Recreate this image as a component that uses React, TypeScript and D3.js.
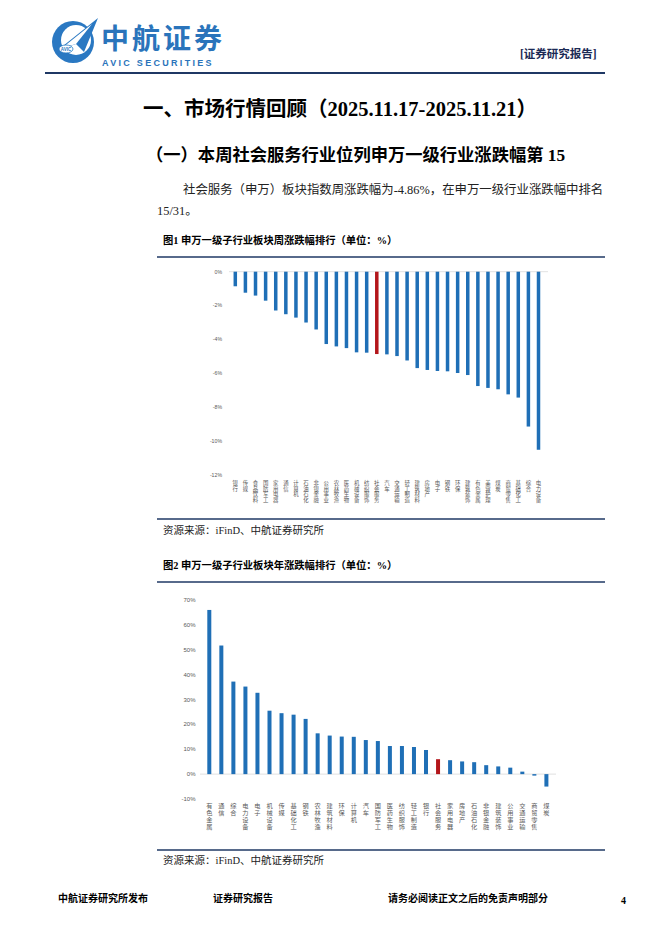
import React from "react";
import * as d3 from "d3";

const weekCategories = ["银行","传媒","食品饮料","国防军工","家用电器","通信","计算机","石油石化","非银金融","公用事业","农林牧渔","医药生物","机械设备","纺织服饰","社会服务","汽车","交通运输","轻工制造","建筑材料","房地产","电子","钢铁","环保","建筑装饰","有色金属","美容护理","煤炭","商贸零售","基础化工","综合","电力设备"];
const weekValues = [-0.86,-1.24,-1.41,-1.71,-2.29,-2.51,-2.71,-3.0,-3.41,-4.27,-4.41,-4.51,-4.76,-4.78,-4.86,-4.88,-4.98,-5.24,-5.69,-5.8,-5.86,-5.88,-5.98,-6.1,-6.75,-6.86,-6.94,-7.24,-7.43,-9.14,-10.51];
const weekTicks = [0,-2,-4,-6,-8,-10,-12];

const yearCategories = ["有色金属","通信","综合","电力设备","电子","机械设备","传媒","基础化工","钢铁","农林牧渔","建筑材料","环保","计算机","汽车","国防军工","医药生物","纺织服饰","轻工制造","银行","社会服务","家用电器","房地产","石油石化","非银金融","建筑装饰","公用事业","交通运输","商贸零售","煤炭"];
const yearValues = [66.0,51.7,37.2,35.2,32.7,25.5,24.5,23.9,22.2,16.4,15.5,15.1,15.0,13.7,13.3,11.3,11.3,10.9,9.7,6.0,5.6,5.1,4.8,3.6,3.1,2.6,1.0,-0.6,-5.0];
const yearTicks = [70,60,50,40,30,20,10,0,-10];

const HIGHLIGHT = "社会服务";
const BLUE = "#1f6fb6";
const RED = "#b3161b";
const NAVY = "#1f3864";
const SERIF = "'Liberation Serif','Noto Sans CJK SC',serif";
const CJK = "'Noto Sans CJK SC','Liberation Serif',sans-serif";

type BarProps = {
  cats: string[]; vals: number[]; ticks: number[];
  x0: number; x1: number; yTop: number; yBot: number; dom: [number, number];
  barW: number; tickX: number; tickFs: number; labelTop: number; labelFs: number; labelLs: number; gridX0: number; gridX1: number;
};

function BarChart(p: BarProps) {
  const x = d3.scalePoint<string>().domain(p.cats).range([p.x0, p.x1]);
  const y = d3.scaleLinear().domain(p.dom).range([p.yBot, p.yTop]);
  return (
    <g>
      <line x1={p.gridX0} x2={p.gridX1} y1={y(0)} y2={y(0)} stroke="#d9d9d9" strokeWidth={0.8} />
      {p.ticks.map((t) => (
        <text key={t} x={p.tickX} y={y(t)} dy="0.35em" textAnchor="end" fontSize={p.tickFs} fill="#595959" fontFamily="'Liberation Sans',sans-serif">{t}%</text>
      ))}
      {p.cats.map((c, i) => {
        const v = p.vals[i];
        const cx = x(c) as number;
        return (
          <rect key={c} x={cx - p.barW / 2} width={p.barW} y={Math.min(y(0), y(v))} height={Math.abs(y(v) - y(0))} fill={c === HIGHLIGHT ? RED : BLUE} />
        );
      })}
      {p.cats.map((c) => {
        const cx = x(c) as number;
        return (
          <text key={c} x={cx} y={p.labelTop} fontSize={p.labelFs} fill="#595959" fontFamily={CJK}
            letterSpacing={p.labelLs}
            style={{ writingMode: "vertical-rl", textOrientation: "upright" } as React.CSSProperties}>{c}</text>
        );
      })}
    </g>
  );
}

function Logo() {
  return (
    <g>
      <circle cx={73} cy={42} r={21} fill="#2a78c2" />
      <circle cx={76} cy={40} r={15} fill="#ffffff" />
      <path d="M58,50 L98,18 L84,52 L76,44 Z" fill="#2a78c2" />
      <path d="M62,48 L92,24 L76,44 Z" fill="#ffffff" />
      <ellipse cx={66} cy={49} rx={7} ry={4} fill="#ffffff" stroke="#2a78c2" strokeWidth={0.8} />
      <text x={66} y={50.8} fontSize={4.5} fontWeight="bold" textAnchor="middle" fill="#2a78c2" fontFamily="'Liberation Sans',sans-serif">AVIC</text>
    </g>
  );
}

export default function App() {
  return (
    <svg width={662} height={936} style={{ position: "absolute", left: 0, top: 0, background: "#fff" }}>
      <rect width={662} height={936} fill="#ffffff" />
      <Logo />
      <text x={101} y={49} fontSize={28} fontWeight="bold" fill="#2a74bb" letterSpacing={3} fontFamily={CJK}>中航证券</text>
      <text x={102} y={66} fontSize={9} fontWeight="bold" fill="#2a74bb" letterSpacing={2.3} fontFamily="'Liberation Sans',sans-serif">AVIC SECURITIES</text>
      <text x={520} y={58} fontSize={11.5} fontWeight="bold" fill="#1b2a55" fontFamily={SERIF}>[证券研究报告]</text>
      <line x1={45} x2={605} y1={73} y2={73} stroke={NAVY} strokeWidth={2} />

      <text x={143} y={116} fontSize={20.5} fontWeight="bold" fill="#000" fontFamily={SERIF}>一、市场行情回顾（2025.11.17-2025.11.21）</text>
      <text x={146} y={161} fontSize={17.3} fontWeight="bold" fill="#000" fontFamily={SERIF}>（一）本周社会服务行业位列申万一级行业涨跌幅第 15</text>
      <text x={183} y={194} fontSize={12.4} fill="#222" fontFamily={SERIF}>社会服务（申万）板块指数周涨跌幅为-4.86%，在申万一级行业涨跌幅中排名</text>
      <text x={157} y={215} fontSize={12.4} fill="#222" fontFamily={SERIF}>15/31。</text>

      <text x={163} y={244} fontSize={10.3} fontWeight="bold" fill="#000" fontFamily={SERIF}>图1  申万一级子行业板块周涨跌幅排行（单位：%）</text>
      <line x1={157} x2={605} y1={257} y2={257} stroke={NAVY} strokeWidth={1.5} />
      <BarChart cats={weekCategories} vals={weekValues} ticks={weekTicks} x0={235.3} x1={538.5} yTop={271.7} yBot={475} dom={[-12, 0]}
        barW={3.5} tickX={222} tickFs={5.2} labelTop={480} labelFs={5.4} labelLs={0.35} gridX0={229} gridX1={548} />
      <line x1={157} x2={605} y1={519} y2={519} stroke={NAVY} strokeWidth={1.5} />
      <text x={163} y={534} fontSize={10.5} fill="#222" fontFamily={SERIF}>资源来源：iFinD、中航证券研究所</text>

      <text x={163} y={569} fontSize={10.3} fontWeight="bold" fill="#000" fontFamily={SERIF}>图2  申万一级子行业板块年涨跌幅排行（单位：%）</text>
      <line x1={157} x2={605} y1={582} y2={582} stroke={NAVY} strokeWidth={1.5} />
      <BarChart cats={yearCategories} vals={yearValues} ticks={yearTicks} x0={209.3} x1={546.4} yTop={600} yBot={799} dom={[-10, 70]}
        barW={4} tickX={195.5} tickFs={6} labelTop={803} labelFs={6.2} labelLs={0.5} gridX0={200} gridX1={556} />
      <line x1={157} x2={605} y1={850} y2={850} stroke={NAVY} strokeWidth={1.5} />
      <text x={163} y={864} fontSize={10.5} fill="#222" fontFamily={SERIF}>资源来源：iFinD、中航证券研究所</text>

      <text x={58} y={902} fontSize={10} fontWeight="bold" fill="#000" fontFamily={SERIF}>中航证券研究所发布</text>
      <text x={213} y={902} fontSize={10} fontWeight="bold" fill="#000" fontFamily={SERIF}>证券研究报告</text>
      <text x={388} y={902} fontSize={10} fontWeight="bold" fill="#000" fontFamily={SERIF}>请务必阅读正文之后的免责声明部分</text>
      <text x={621} y={904} fontSize={10} fontWeight="bold" fill="#000" fontFamily={SERIF}>4</text>
    </svg>
  );
}
